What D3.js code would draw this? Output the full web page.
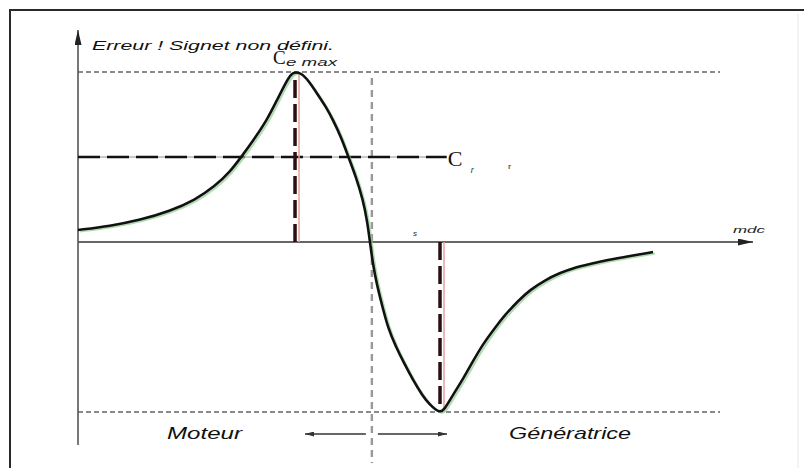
<!DOCTYPE html>
<html>
<head>
<meta charset="utf-8">
<script src="https://cdn.jsdelivr.net/npm/d3@7"></script>
<style>
  html, body { margin: 0; padding: 0; background: #fff; }
  svg { display: block; }
</style>
</head>
<body>
<svg id="chart" width="804" height="468"></svg>
<script>
// Torque / speed characteristic of an asynchronous machine (normalised torque)
const speed  = [0, 4.75, 9.2, 13.65, 17.36, 20.33, 22.55, 24.33, 26.26, 28.04, 29.53, 30.71, 31.6, 32.2,
                33.09, 34.12, 35.61, 36.8, 37.83, 39.02, 40.06, 41.25, 42.28, 42.88, 43.32, 43.77, 44.36,
                45.1, 45.99, 47.18, 48.37, 49.7, 51.04, 52.23, 53.12, 53.71,
                54.3, 55.19, 56.08, 57.12, 58.61, 60.09, 61.72, 63.35, 65.28, 67.06, 69.29, 71.51, 73.44,
                75.96, 78.49, 81.9, 85.31];
const torque = [0.071, 0.094, 0.129, 0.182, 0.247, 0.329, 0.412, 0.506, 0.612, 0.718, 0.835, 0.929, 0.988, 1.0,
                0.994, 0.953, 0.865, 0.794, 0.718, 0.618, 0.506, 0.382, 0.247, 0.129, 0, -0.135, -0.253,
                -0.371, -0.506, -0.618, -0.712, -0.812, -0.9, -0.959, -0.988, -1.0,
                -0.988, -0.929, -0.871, -0.806, -0.7, -0.6, -0.512, -0.429, -0.347, -0.282, -0.224, -0.182, -0.153,
                -0.129, -0.106, -0.082, -0.059];

const cMax = 1, cMin = -1, cLoad = 0.5;
const speedAtCmax = 32.2, speedAtCmin = 53.71, speedSync = 43.6, loadLineEnd = 54.7;
const speedDomain = [0, 100];
const torqueDomain = [-1, 1];

const titleText = "Erreur ! Signet non défini.";
const regionLabels = ["Moteur", "Génératrice"];

const svg = d3.select("#chart");
const x = d3.scaleLinear().domain(speedDomain).range([78, 752]);
const y = d3.scaleLinear().domain(torqueDomain).range([412, 72]);

// arrow heads
const defs = svg.append("defs");
function arrow(id, len, half, color) {
  defs.append("marker")
    .attr("id", id)
    .attr("viewBox", `0 0 ${len} ${half * 2}`)
    .attr("refX", len).attr("refY", half)
    .attr("markerWidth", len).attr("markerHeight", half * 2)
    .attr("markerUnits", "userSpaceOnUse")
    .attr("orient", "auto")
    .append("path")
    .attr("d", `M0,0 L${len},${half} L0,${half * 2} Z`)
    .attr("fill", color);
}
arrow("axisHead", 15, 3.5, "#222");
arrow("smallHead", 9, 2.5, "#333");

// frame
svg.append("path").attr("d", "M10,468 V10 H804").attr("fill", "none")
  .attr("stroke", "#2a2a2a").attr("stroke-width", 2);
svg.append("line").attr("x1", 798).attr("x2", 798).attr("y1", 14).attr("y2", 468)
  .attr("stroke", "#e6e6e6").attr("stroke-width", 1);

// reference levels Cmax / Cmin
[cMax, cMin].forEach(v => {
  svg.append("line")
    .attr("x1", x(0)).attr("x2", 720)
    .attr("y1", y(v)).attr("y2", y(v))
    .attr("stroke", "#666").attr("stroke-width", 1.6)
    .attr("stroke-dasharray", "5,3");
});

// synchronous speed
svg.append("line")
  .attr("x1", x(speedSync)).attr("x2", x(speedSync))
  .attr("y1", y(cMax) + 6).attr("y2", 463)
  .attr("stroke", "#999").attr("stroke-width", 2.4)
  .attr("stroke-dasharray", "7,5");

// axes
svg.append("line")
  .attr("x1", x(0)).attr("x2", x(speedDomain[1]) + 1)
  .attr("y1", y(0)).attr("y2", y(0))
  .attr("stroke", "#333").attr("stroke-width", 1.3)
  .attr("marker-end", "url(#axisHead)");
svg.append("line")
  .attr("x1", x(0)).attr("x2", x(0))
  .attr("y1", 445).attr("y2", 30)
  .attr("stroke", "#555").attr("stroke-width", 1.6)
  .attr("marker-end", "url(#axisHead)");

// load torque Cr
svg.append("line")
  .attr("x1", x(0)).attr("x2", x(loadLineEnd))
  .attr("y1", y(cLoad)).attr("y2", y(cLoad))
  .attr("stroke", "#777").attr("stroke-width", 0.8);
svg.append("line")
  .attr("x1", x(0)).attr("x2", x(loadLineEnd))
  .attr("y1", y(cLoad)).attr("y2", y(cLoad))
  .attr("stroke", "#111").attr("stroke-width", 2.6)
  .attr("stroke-dasharray", "22,7");

// guides at Cmax and Cmin
[[speedAtCmax, cMax], [speedAtCmin, cMin]].forEach(([s, c]) => {
  svg.append("line")
    .attr("x1", x(s) + 4).attr("x2", x(s) + 4)
    .attr("y1", y(0)).attr("y2", y(c))
    .attr("stroke", "#e8a0a0").attr("stroke-width", 1.5);
  svg.append("line")
    .attr("x1", x(s)).attr("x2", x(s))
    .attr("y1", y(0)).attr("y2", y(c))
    .attr("stroke", "#2a1010").attr("stroke-width", 3.5)
    .attr("stroke-dasharray", "18,6");
});

// torque curve
const pts = speed.map((s, i) => [s, torque[i]]);
const line = d3.line()
  .x(d => x(d[0])).y(d => y(d[1]))
  .curve(d3.curveBasis);
svg.append("path").datum(pts).attr("d", line)
  .attr("fill", "none").attr("stroke", "#8fcf8f").attr("stroke-width", 2)
  .attr("opacity", 0.7).attr("transform", "translate(2,1.5)");
svg.append("path").datum(pts).attr("d", line)
  .attr("fill", "none").attr("stroke", "#111").attr("stroke-width", 2.6)
  .attr("stroke-linejoin", "round");

// texts
const sans = "'Liberation Sans', Arial, sans-serif";
svg.append("text").text(titleText)
  .attr("x", 92).attr("y", 50)
  .attr("font-family", sans).attr("font-style", "italic").attr("font-size", 13)
  .attr("textLength", 242).attr("lengthAdjust", "spacingAndGlyphs")
  .attr("fill", "#111");

svg.append("text").text("C")
  .attr("x", 273).attr("y", 64)
  .attr("font-family", "'Liberation Serif', serif").attr("font-size", 19)
  .attr("fill", "#111");
svg.append("text").text("e max")
  .attr("x", 286).attr("y", 66)
  .attr("font-family", sans).attr("font-style", "italic").attr("font-size", 10)
  .attr("textLength", 51).attr("lengthAdjust", "spacingAndGlyphs")
  .attr("fill", "#222");

svg.append("text").text("C")
  .attr("x", x(loadLineEnd) + 1).attr("y", y(cLoad) + 9)
  .attr("font-family", "'Liberation Serif', serif").attr("font-size", 22)
  .attr("fill", "#111");
svg.append("text").text("r")
  .attr("x", x(loadLineEnd) + 24).attr("y", y(cLoad) + 16)
  .attr("font-family", sans).attr("font-style", "italic").attr("font-size", 9)
  .attr("fill", "#333");
svg.append("text").text("r")
  .attr("x", 508).attr("y", y(cLoad) + 12)
  .attr("font-family", sans).attr("font-weight", "bold").attr("font-size", 8)
  .attr("fill", "#556");

svg.append("text").text("s")
  .attr("x", 413).attr("y", 236)
  .attr("font-family", sans).attr("font-style", "italic").attr("font-size", 8)
  .attr("fill", "#222");

svg.append("text").text("mdc")
  .attr("x", 733).attr("y", 233)
  .attr("font-family", sans).attr("font-style", "italic").attr("font-size", 9)
  .attr("textLength", 32).attr("lengthAdjust", "spacingAndGlyphs")
  .attr("fill", "#222");

svg.append("text").text(regionLabels[0])
  .attr("x", 167).attr("y", 439)
  .attr("font-family", sans).attr("font-style", "italic").attr("font-size", 17)
  .attr("textLength", 75).attr("lengthAdjust", "spacingAndGlyphs")
  .attr("fill", "#111");
svg.append("text").text(regionLabels[1])
  .attr("x", 509).attr("y", 439)
  .attr("font-family", sans).attr("font-style", "italic").attr("font-size", 17)
  .attr("textLength", 122).attr("lengthAdjust", "spacingAndGlyphs")
  .attr("fill", "#111");

// operating-region arrows
svg.append("line")
  .attr("x1", x(speedSync) - 6).attr("x2", 305)
  .attr("y1", 434).attr("y2", 434)
  .attr("stroke", "#333").attr("stroke-width", 1.3)
  .attr("marker-end", "url(#smallHead)");
svg.append("line")
  .attr("x1", x(speedSync) + 6).attr("x2", 447)
  .attr("y1", 434).attr("y2", 434)
  .attr("stroke", "#333").attr("stroke-width", 1.3)
  .attr("marker-end", "url(#smallHead)");
</script>
</body>
</html>
